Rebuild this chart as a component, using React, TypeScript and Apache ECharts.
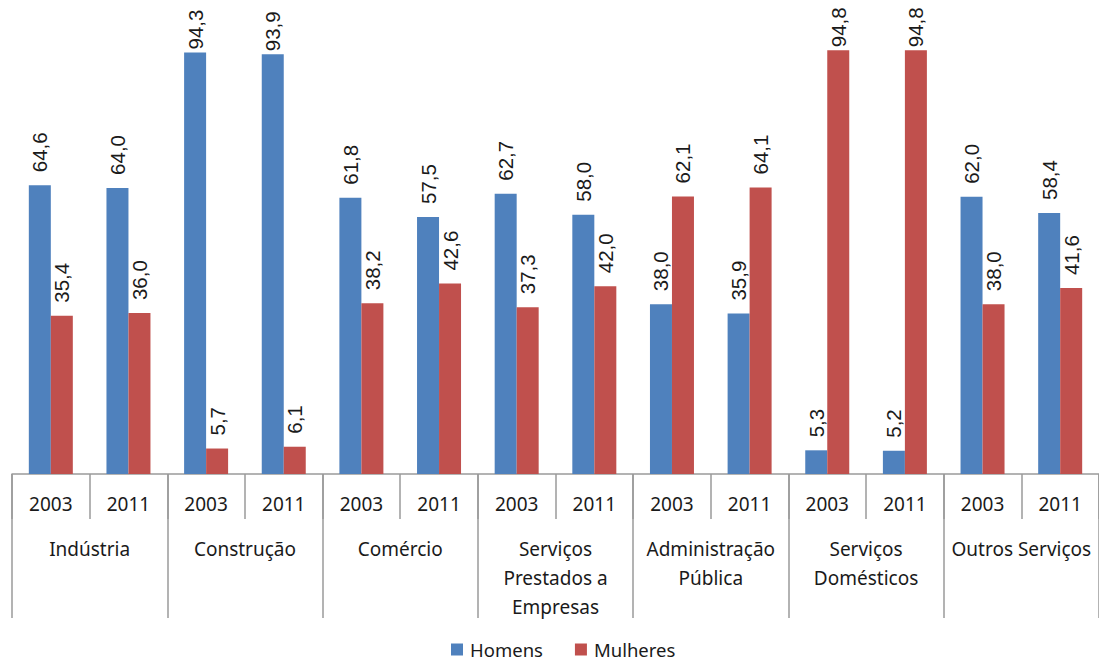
import React, { useEffect, useRef } from "react";
import * as echarts from "echarts";

const years = ["2003", "2011", "2003", "2011", "2003", "2011", "2003", "2011", "2003", "2011", "2003", "2011", "2003", "2011"];
const sectors = [
  "Indústria",
  "Construção",
  "Comércio",
  "Serviços\nPrestados a\nEmpresas",
  "Administração\nPública",
  "Serviços\nDomésticos",
  "Outros Serviços",
];
const homens = [64.6, 64.0, 94.3, 93.9, 61.8, 57.5, 62.7, 58.0, 38.0, 35.9, 5.3, 5.2, 62.0, 58.4];
const mulheres = [35.4, 36.0, 5.7, 6.1, 38.2, 42.6, 37.3, 42.0, 62.1, 64.1, 94.8, 94.8, 38.0, 41.6];

const BLUE = "#4F81BD";
const RED = "#C0504D";
const AXIS = "#9a9a9a";
const FONT = "'Noto Sans', sans-serif";

// labels of the tallest bars are pushed inside the chart area, as in the reference
const withTopLabelFit = (arr: number[]) =>
  arr.map((v) => (v > 90 ? { value: v, label: { distance: 3 } } : v));

export default function App() {
  const ref = useRef<HTMLDivElement>(null);
  useEffect(() => {
    if (!ref.current) return;
    const chart = echarts.init(ref.current, undefined, { renderer: "svg" });
    const label = {
      show: true,
      position: "top" as const,
      rotate: 90,
      align: "left" as const,
      verticalAlign: "middle" as const,
      distance: 13,
      fontFamily: "'Liberation Sans', Arial, sans-serif",
      fontSize: 20.5,
      color: "#1a1a1a",
      formatter: (p: any) => Number(p.value).toFixed(1).replace(".", ","),
    };
    chart.setOption({
      animation: false,
      grid: { left: 12, width: 1095, top: 27, bottom: 187, containLabel: false },
      legend: {
        data: ["Homens", "Mulheres"],
        top: 640,
        left: 451,
        itemWidth: 12,
        itemHeight: 12,
        itemGap: 32,
        icon: "rect",
        padding: 0,
        textStyle: { fontFamily: FONT, fontSize: 18.5, lineHeight: 19, color: "#1a1a1a", padding: [0, 0, 0, 2] },
      },
      xAxis: [
        {
          type: "category",
          data: years,
          position: "bottom",
          axisLine: { show: true, lineStyle: { color: AXIS, width: 1.5 } },
          axisTick: { show: true, length: 45, interval: 0, lineStyle: { color: AXIS, width: 1.5 } },
          axisLabel: {
            interval: 0,
            margin: 19,
            fontFamily: FONT,
            fontSize: 19,
            lineHeight: 22,
            color: "#1a1a1a",
          },
        },
        {
          type: "category",
          data: sectors,
          position: "bottom",
          offset: 0,
          axisLine: { show: false },
          axisTick: { show: true, length: 144, interval: 0, lineStyle: { color: AXIS, width: 1.5 } },
          axisLabel: {
            interval: 0,
            margin: 60,
            fontFamily: FONT,
            fontSize: 19,
            lineHeight: 29,
            color: "#1a1a1a",
          },
        },
      ],
      yAxis: { type: "value", min: 0, max: 100, show: false, splitLine: { show: false } },
      series: [
        {
          name: "Homens",
          type: "bar",
          xAxisIndex: 0,
          data: withTopLabelFit(homens),
          barWidth: 22,
          barGap: "0%",
          itemStyle: { color: BLUE },
          label,
        },
        {
          name: "Mulheres",
          type: "bar",
          xAxisIndex: 0,
          data: withTopLabelFit(mulheres),
          barWidth: 22,
          barGap: "0%",
          itemStyle: { color: RED },
          label,
        },
      ],
    });
    return () => chart.dispose();
  }, []);
  return <div ref={ref} style={{ width: 1099, height: 661, position: "absolute", left: 0, top: 0 }} />;
}
